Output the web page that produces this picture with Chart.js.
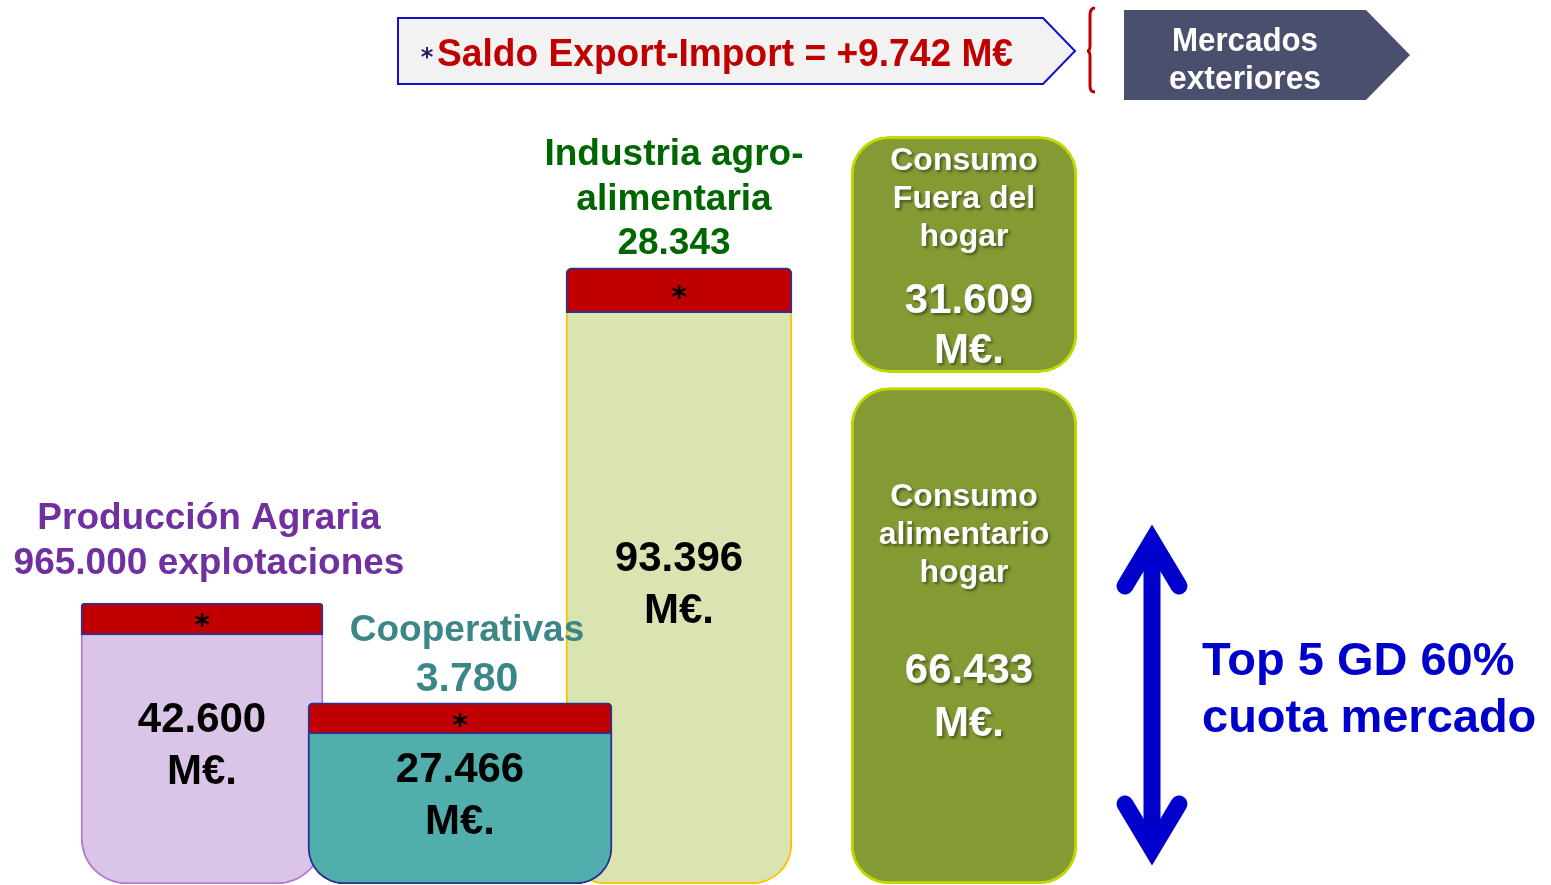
<!DOCTYPE html>
<html lang="es">
<head>
<meta charset="utf-8">
<title>Cadena de valor agroalimentaria</title>
<script src="https://cdn.jsdelivr.net/npm/chart.js@4.4.1/dist/chart.umd.min.js"></script>
<style>
  html, body { margin: 0; padding: 0; background: #fff; overflow: hidden; }
  canvas { display: block; }
</style>
</head>
<body>
<canvas id="chain" width="1551" height="885"></canvas>
<script>
// values in M€ as printed on the slide
const categories = [
  ['Producción Agraria'],
  ['Cooperativas'],
  ['Industria agro-', 'alimentaria'],
  ['Consumo', 'alimentario', 'hogar'],
  ['Consumo', 'Fuera del', 'hogar']
];
const values = [42600, 27466, 93396, 66433, 31609];
// red "*" band (export part) at the top of the first three bars
const exportBand = [4850, 4700, 6800];
const entities = [965000, 3780, 28343];
const entityUnits = ['explotaciones', '', ''];
const saldo = 9742;
const top5Share = 60;
const marketLines = ['Mercados', 'exteriores'];

// layout: bar centres / widths on the hidden x axis (px), gap between the two consumo boxes
const barX = [202, 460, 679, 964, 964];
const barW = [242, 304, 226, 226, 226];
const consumoGap = 2000;

const FONT = '"Liberation Sans", Arial, sans-serif';
const NAVY = '#2e3192';
const RED = '#c00000';

function fmt(n) {
  return String(n).replace(/\B(?=(\d{3})+(?!\d))/g, '.');
}

function bar(cat, part, lo, hi, fill, border, radius, extra) {
  return Object.assign({
    cat: cat,
    part: part,
    data: [{ x: barX[cat], y: [lo, hi] }],
    barThickness: barW[cat],
    backgroundColor: fill,
    borderColor: border,
    borderWidth: 2,
    borderRadius: radius,
    borderSkipped: false,
    grouped: false
  }, extra);
}

const roundTop = r => ({ topLeft: r, topRight: r, bottomLeft: 0, bottomRight: 0 });
const roundBottom = r => ({ topLeft: 0, topRight: 0, bottomLeft: r, bottomRight: r });

// lower index inside the same order is painted on top
const datasets = [
  bar(1, 'band', values[1] - exportBand[1], values[1], RED, NAVY, roundTop(5), { order: 1 }),
  bar(1, 'body', 0, values[1] - exportBand[1], '#50aeac', NAVY, roundBottom(36), { order: 1, borderSkipped: 'top' }),
  bar(0, 'band', values[0] - exportBand[0], values[0], RED, NAVY, roundTop(4), { order: 2 }),
  bar(0, 'body', 0, values[0] - exportBand[0], '#dac5e8', '#ad7bd3', roundBottom(46), { order: 2, borderSkipped: 'top' }),
  bar(3, 'body', 0, values[3], '#849b34', '#c2d600', 38, { order: 2, yAxisID: 'y2', borderWidth: 3 }),
  bar(4, 'body', values[3] + consumoGap, values[3] + consumoGap + values[4], '#849b34', '#c2d600', 38, { order: 2, yAxisID: 'y2', borderWidth: 3 }),
  bar(2, 'band', values[2] - exportBand[2], values[2], RED, NAVY, roundTop(6), { order: 3 }),
  bar(2, 'body', 0, values[2] - exportBand[2], '#d9e4b1', '#ffc000', roundBottom(40), { order: 3, borderSkipped: 'top' })
];

function text(ctx, s, x, y, size, color, align, fitWidth) {
  ctx.save();
  ctx.font = 'bold ' + size + 'px ' + FONT;
  ctx.fillStyle = color;
  ctx.textAlign = align || 'center';
  ctx.textBaseline = 'alphabetic';
  if (fitWidth) {
    const w = ctx.measureText(s).width;
    ctx.translate(x, y);
    ctx.scale(Math.min(1, fitWidth / w), 1);
    ctx.fillText(s, 0, 0);
  } else {
    ctx.fillText(s, x, y);
  }
  ctx.restore();
}

// heavier asterisk, centred on cy
function star(ctx, x, cy, size, color) {
  ctx.save();
  ctx.font = 'bold ' + size + 'px "DejaVu Sans", sans-serif';
  ctx.fillStyle = color;
  ctx.textAlign = 'center';
  const m = ctx.measureText('*');
  const base = cy + (m.actualBoundingBoxAscent - m.actualBoundingBoxDescent) / 2;
  ctx.fillText('*', x, base);
  ctx.restore();
}

const chainLabels = {
  id: 'chainLabels',
  afterDatasetsDraw(chart) {
    const ctx = chart.ctx;
    const find = (cat, part) => {
      const idx = chart.data.datasets.findIndex(d => d.cat === cat && d.part === part);
      return chart.getDatasetMeta(idx).data[0];
    };

    // labels above the three value-chain bars
    const heads = [
      { color: '#7030a0', dx: 7, lines: [[categories[0][0], 37, -74], [fmt(entities[0]) + ' ' + entityUnits[0], 37, -29]] },
      { color: '#3b8787', dx: 7, lines: [[categories[1][0], 37, -62], [fmt(entities[1]), 41, -12]] },
      { color: '#006600', dx: -5, lines: [[categories[2][0], 37, -103], [categories[2][1], 37, -58], [fmt(entities[2]), 37, -14]] }
    ];
    heads.forEach((h, i) => {
      const band = find(i, 'band');
      const body = find(i, 'body');
      h.lines.forEach(l => text(ctx, l[0], band.x + h.dx, band.y + l[2], l[1], h.color));
      star(ctx, band.x, (band.y + band.base) / 2 + 2, 30, '#000');
      const mid = (body.y + body.base) / 2;
      text(ctx, fmt(values[i]), body.x, mid - 27, 42, '#000');
      text(ctx, 'M€.', body.x, mid + 25, 42, '#000');
    });

    // consumo boxes, white text with a soft shadow
    ctx.save();
    ctx.shadowColor = 'rgba(0,0,0,0.45)';
    ctx.shadowOffsetX = 2;
    ctx.shadowOffsetY = 2;
    ctx.shadowBlur = 3;
    [[3, [-130, -92, -54], [47, 100]], [4, [-85, -47, -9], [58, 108]]].forEach(c => {
      const el = find(c[0], 'body');
      const mid = (el.y + el.base) / 2;
      categories[c[0]].forEach((s, k) => text(ctx, s, el.x, mid + c[1][k], 32, '#fff'));
      text(ctx, fmt(values[c[0]]), el.x + 5, mid + c[2][0], 42, '#fff');
      text(ctx, 'M€.', el.x + 5, mid + c[2][1], 42, '#fff');
    });
    ctx.restore();

    // saldo banner
    ctx.save();
    ctx.beginPath();
    ctx.moveTo(398, 18); ctx.lineTo(1043, 18); ctx.lineTo(1075, 51);
    ctx.lineTo(1043, 84); ctx.lineTo(398, 84); ctx.closePath();
    ctx.fillStyle = '#f2f2f2';
    ctx.fill();
    ctx.lineWidth = 2;
    ctx.strokeStyle = '#1010cc';
    ctx.stroke();
    ctx.restore();
    star(ctx, 427, 53, 24, '#1f1f6e');
    text(ctx, 'Saldo Export-Import = +' + fmt(saldo) + ' M€', 437, 66, 39, RED, 'left', 576);

    // red bracket
    ctx.save();
    ctx.strokeStyle = RED;
    ctx.lineWidth = 3;
    ctx.beginPath();
    ctx.moveTo(1095, 8);
    ctx.quadraticCurveTo(1090, 8, 1090, 15);
    ctx.lineTo(1090, 46);
    ctx.quadraticCurveTo(1090, 51, 1087, 51);
    ctx.quadraticCurveTo(1090, 51, 1090, 56);
    ctx.lineTo(1090, 86);
    ctx.quadraticCurveTo(1090, 92, 1095, 92);
    ctx.stroke();
    ctx.restore();

    // mercados exteriores arrow box
    ctx.save();
    ctx.beginPath();
    ctx.moveTo(1124, 10); ctx.lineTo(1366, 10); ctx.lineTo(1410, 55);
    ctx.lineTo(1366, 100); ctx.lineTo(1124, 100); ctx.closePath();
    ctx.fillStyle = '#4a4f6e';
    ctx.fill();
    ctx.restore();
    text(ctx, marketLines[0], 1245, 51, 33, '#fff', 'center', 146);
    text(ctx, marketLines[1], 1245, 89, 33, '#fff', 'center', 152);

    // double arrow + market share note
    ctx.save();
    ctx.strokeStyle = '#0000cc';
    ctx.lineWidth = 17;
    ctx.beginPath();
    ctx.moveTo(1152, 545); ctx.lineTo(1152, 845);
    ctx.stroke();
    ctx.lineJoin = 'miter';
    ctx.lineCap = 'round';
    ctx.beginPath();
    ctx.moveTo(1125, 586); ctx.lineTo(1152, 541); ctx.lineTo(1179, 586);
    ctx.stroke();
    ctx.beginPath();
    ctx.moveTo(1125, 804); ctx.lineTo(1152, 849); ctx.lineTo(1179, 804);
    ctx.stroke();
    ctx.restore();
    text(ctx, 'Top 5 GD ' + top5Share + '%', 1202, 675, 47, '#0000cc', 'left');
    text(ctx, 'cuota mercado', 1202, 732, 47, '#0000cc', 'left');
  }
};

new Chart(document.getElementById('chain'), {
  type: 'bar',
  data: { datasets: datasets },
  options: {
    responsive: false,
    animation: false,
    events: [],
    layout: { padding: { top: 0, left: 0, right: 0, bottom: 1 } },
    scales: {
      x: { type: 'linear', min: 0, max: 1551, offset: false, display: false },
      y: { min: 0, max: 134000, display: false },
      y2: { min: 0, max: 118300, display: false }
    },
    plugins: {
      legend: { display: false },
      tooltip: { enabled: false }
    }
  },
  plugins: [chainLabels]
});
</script>
</body>
</html>
